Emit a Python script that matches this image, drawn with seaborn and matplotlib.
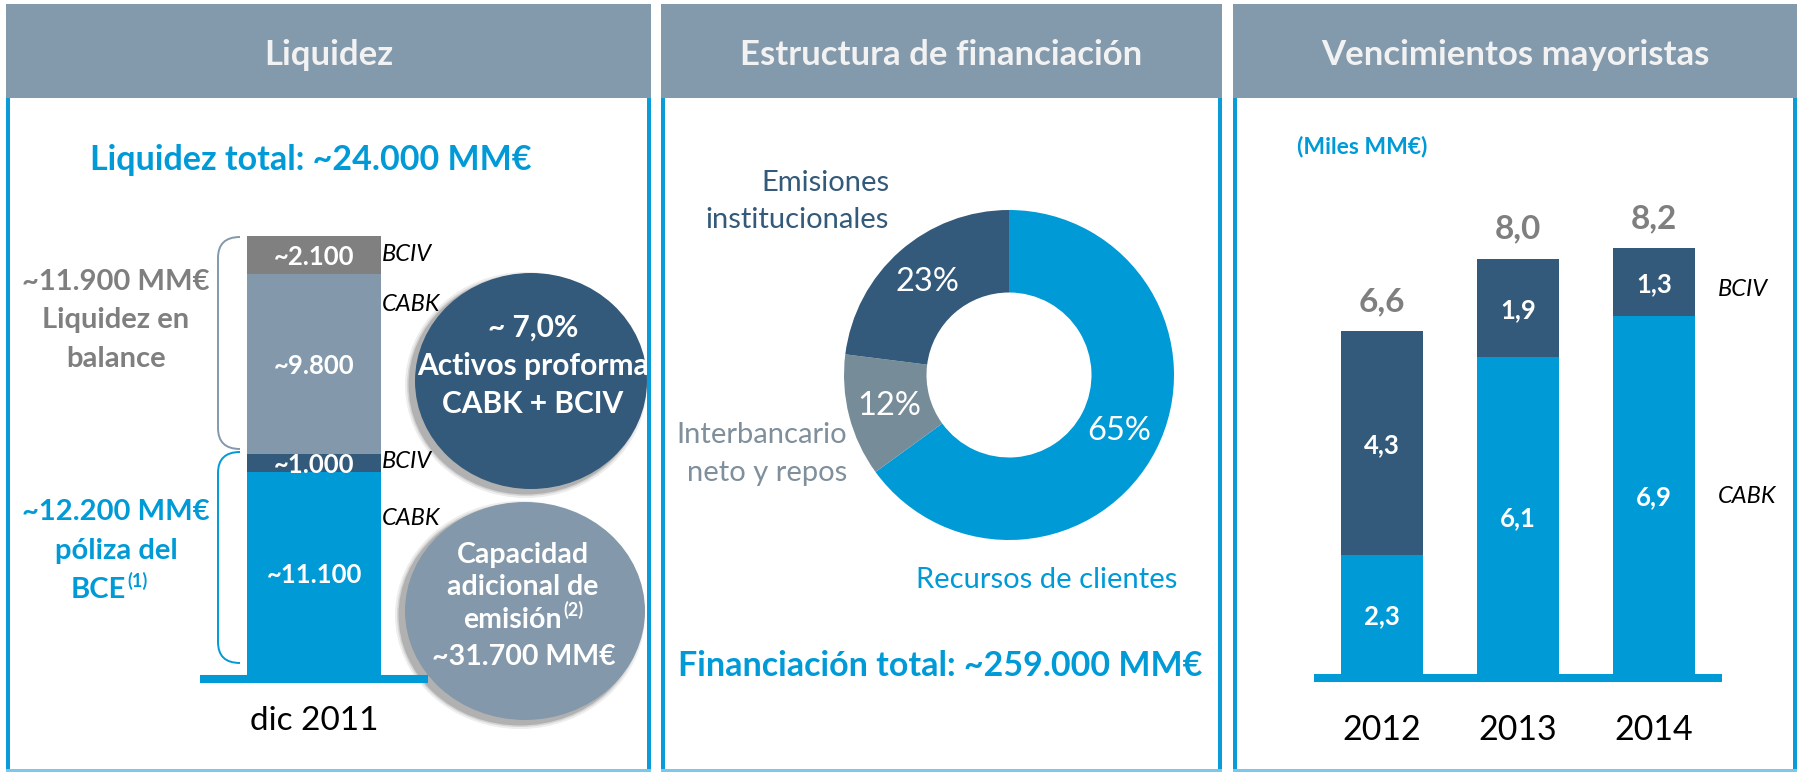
import matplotlib
matplotlib.use("Agg")
import matplotlib.pyplot as plt
from matplotlib.patches import Ellipse, Rectangle, PathPatch
from matplotlib.path import Path
from matplotlib.transforms import blended_transform_factory
import numpy as np
import seaborn as sns

# ---------------------------------------------------------------- data
liq_period = "dic 2011"
liq_values = [11100, 1000, 9800, 2100]
liq_labels = ["~11.100", "~1.000", "~9.800", "~2.100"]
liq_entity = ["CABK", "BCIV", "CABK", "BCIV"]

fin_shares = [65, 12, 23]
fin_names = ["Recursos de clientes", "Interbancario\nneto y repos",
             "Emisiones\ninstitucionales"]

years = ["2012", "2013", "2014"]
cabk = [2.3, 6.1, 6.9]
bciv = [4.3, 1.9, 1.3]

# ---------------------------------------------------------------- style
BLUE = "#009AD7"
DARK = "#335A7A"
GREYBLUE = "#8399AB"
GREY = "#808080"
DONUT_GREY = "#778C99"
HEADER = "#8399AC"
BORDER = "#0A9CD8"
TXT_GREY = "#7F7F7F"

sns.set_style("white")
plt.rcParams["font.family"] = ["Lato", "DejaVu Sans"]
FONT = ["Lato", "DejaVu Sans"]

W, H = 1802, 774
fig = plt.figure(figsize=(W / 100, H / 100), dpi=100)
canvas = fig.add_axes([0, 0, 1, 1])
canvas.set_xlim(0, W); canvas.set_ylim(H, 0); canvas.axis("off")


def ax_box(left, top, right, bottom):
    return fig.add_axes([left / W, 1 - bottom / H,
                         (right - left) / W, (bottom - top) / H])


def txt(x, y, s, size, color, weight="normal", style="normal",
        ha="center", va="baseline", ax=None, **kw):
    (ax or canvas).text(x, y, s, fontsize=size, color=color,
                        fontweight=weight, fontstyle=style, ha=ha, va=va,
                        family=FONT, **kw)


def clean(ax):
    for side in ["top", "left", "right"]:
        ax.spines[side].set_visible(False)
    sp = ax.spines["bottom"]
    sp.set_color(BLUE); sp.set_linewidth(5.8)
    sp.set_position(("outward", 2.9)); sp.set_capstyle("butt")
    ax.set_xticks([]); ax.set_yticks([])
    ax.set_xlabel(""); ax.set_ylabel("")
    ax.patch.set_alpha(0)


# ---------------------------------------------------------------- frames
panels = [(6, 651, "Liquidez"), (661, 1222, "Estructura de financiación"),
          (1233, 1797, "Vencimientos mayoristas")]
for x0, x1, title in panels:
    canvas.add_patch(Rectangle((x0, 4), x1 - x0, 94, color=HEADER, lw=0))
    canvas.add_patch(Rectangle((x0, 98), 4, 674, color=BORDER, lw=0))
    canvas.add_patch(Rectangle((x1 - 4, 98), 4, 674, color=BORDER, lw=0))
    canvas.add_patch(Rectangle((x0, 769), x1 - x0, 3, color="#7CC8EA", lw=0))
    txt((x0 + x1) / 2, 65, title, 25, "#F2F2F2", weight="bold")

# ---------------------------------------------------------------- panel 1
txt(311, 170, "Liquidez total: ~24.000 MM€", 24.5, BLUE, weight="bold")

ax1 = ax_box(200, 236, 428, 675)
tops = np.cumsum(liq_values)
seg_colors = [BLUE, DARK, GREYBLUE, GREY]
for top, col in zip(tops[::-1], seg_colors[::-1]):
    sns.barplot(x=[liq_period], y=[top], color=col, width=0.592,
                saturation=1, linewidth=0, errorbar=None, ax=ax1)
ax1.set_xlim(-0.5, 0.5); ax1.set_ylim(0, tops[-1])
clean(ax1)
for top, val, lab in zip(tops, liq_values, liq_labels):
    txt(0, top - val / 2, lab, 18.5, "white", weight="bold",
        va="center_baseline", ax=ax1)

for y, ent in zip([261, 311, 468, 525], ["BCIV", "CABK", "BCIV", "CABK"]):
    txt(382, y, ent, 17, "black", style="italic", ha="left")

bx = blended_transform_factory(ax1.transData, canvas.transData)
canvas.text(0, 730, liq_period, transform=bx, fontsize=24, color="black",
            ha="center", va="baseline", family=FONT)


def bracket(top, bottom, color):
    verts = [(240, top), (218, top), (218, top + 21), (218, bottom - 21),
             (218, bottom), (240, bottom)]
    codes = [Path.MOVETO, Path.CURVE3, Path.CURVE3, Path.LINETO,
             Path.CURVE3, Path.CURVE3]
    canvas.add_patch(PathPatch(Path(verts, codes), fill=False, ec=color,
                               lw=1.4))


bracket(237, 449, GREYBLUE)
bracket(452, 663, BLUE)

for y, s in zip([290, 328, 367], ["~11.900 MM€", "Liquidez en", "balance"]):
    txt(116, y, s, 21, TXT_GREY, weight="bold")
for y, s in zip([520, 559], ["~12.200 MM€", "póliza del"]):
    txt(116, y, s, 21, BLUE, weight="bold")
txt(126, 598, "BCE", 21, BLUE, weight="bold", ha="right")
txt(127, 587, "(1)", 13, BLUE, weight="bold", ha="left")


def bubble(cx, cy, rx, ry, color):
    for k, a in [(10, 0.07), (6, 0.10), (3, 0.16)]:
        canvas.add_patch(Ellipse((cx - 5, cy + 4), 2 * rx + k, 2 * ry + k,
                                 color="black", alpha=a, lw=0))
    canvas.add_patch(Ellipse((cx, cy), 2 * rx, 2 * ry, color=color, lw=0))


bubble(531, 381, 116, 108, DARK)
for y, s in zip([337, 375, 413], ["~ 7,0%", "Activos proforma", "CABK + BCIV"]):
    txt(533, y, s, 21.5, "white", weight="bold")

bubble(525, 611, 120, 109, GREYBLUE)
for y, s in zip([563, 595], ["Capacidad", "adicional de"]):
    txt(523, y, s, 20.5, "white", weight="bold")
txt(562, 628, "emisión", 20.5, "white", weight="bold", ha="right")
txt(563, 616, "(2)", 13, "white", weight="bold", ha="left")
txt(524, 665, "~31.700 MM€", 20.5, "white", weight="bold")

# ---------------------------------------------------------------- panel 2
axd = ax_box(844, 210, 1174, 540)
axd.pie(fin_shares, colors=[BLUE, DONUT_GREY, DARK], startangle=90,
        counterclock=False, autopct="%1.0f%%", pctdistance=0.75,
        wedgeprops=dict(width=0.5, linewidth=0),
        textprops=dict(color="white", fontsize=23.5, family=FONT))
axd.set_xlim(-1, 1); axd.set_ylim(-1, 1)

txt(889, 191, "Emisiones", 21, DARK, ha="right")
txt(889, 228, "institucionales", 21, DARK, ha="right")
txt(847, 443, "Interbancario", 21, "#7F8F9B", ha="right")
txt(847, 481, "neto y repos", 21, "#7F8F9B", ha="right")
txt(916, 588, fin_names[0], 21, BLUE, ha="left")
txt(940, 676, "Financiación total: ~259.000 MM€", 24.5, BLUE, weight="bold")

# ---------------------------------------------------------------- panel 3
txt(1297, 153, "(Miles MM€)", 16.5, BLUE, weight="bold", ha="left")

totals = [round(a + b, 1) for a, b in zip(cabk, bciv)]
ax3 = ax_box(1314, 674 - 9 * 51.9, 1722, 674)
sns.barplot(x=years, y=totals, color=DARK, width=0.6, saturation=1,
            linewidth=0, errorbar=None, ax=ax3)
sns.barplot(x=years, y=cabk, color=BLUE, width=0.6, saturation=1,
            linewidth=0, errorbar=None, ax=ax3)
ax3.set_xlim(-0.5, 2.5); ax3.set_ylim(0, 9)
clean(ax3)


def fmt(v):
    return f"{v:.1f}".replace(".", ",")


for i, (c, b, t) in enumerate(zip(cabk, bciv, totals)):
    txt(i, c / 2, fmt(c), 18.5, "white", weight="bold", va="center_baseline", ax=ax3)
    txt(i, c + b / 2, fmt(b), 18.5, "white", weight="bold", va="center_baseline", ax=ax3)
    ax3.annotate(fmt(t), (i, t), xytext=(0, 14.5), textcoords="offset points",
                 ha="center", va="baseline", fontsize=24, fontweight="bold",
                 color=TXT_GREY, family=FONT)

bx3 = blended_transform_factory(ax3.transData, canvas.transData)
for i, yr in enumerate(years):
    canvas.text(i, 740, yr, transform=bx3, fontsize=24.5, color="black",
                ha="center", va="baseline", family=FONT)

txt(1718, 296, "BCIV", 17, "black", style="italic", ha="left")
txt(1718, 503, "CABK", 17, "black", style="italic", ha="left")

fig.savefig("out.png", dpi=100)
